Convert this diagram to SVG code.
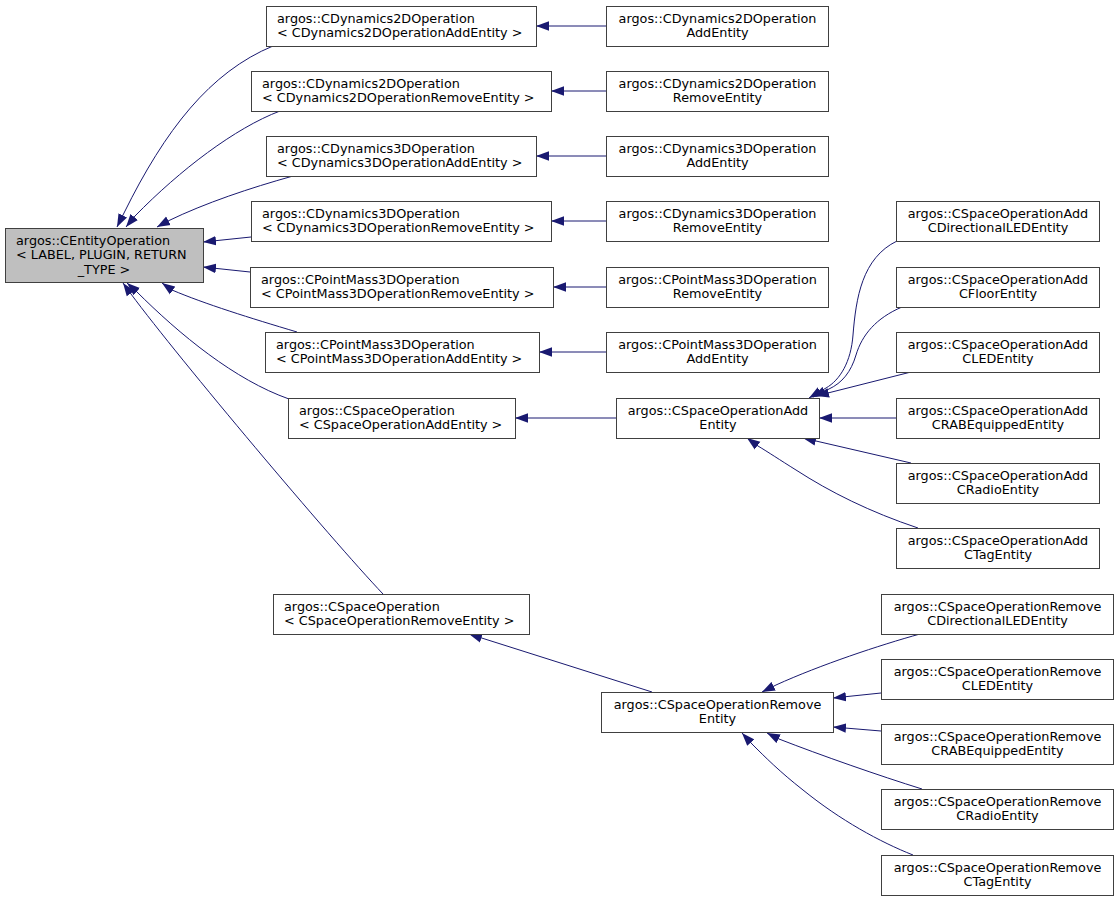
<svg xmlns="http://www.w3.org/2000/svg" width="1119" height="901" viewBox="0 0 1119 901">
<style>
.bg{fill:#ffffff}
.box{fill:#ffffff;stroke:#404040;stroke-width:1}
.root{fill:#bfbfbf;stroke:#404040;stroke-width:1}
text{font-family:"DejaVu Sans","Liberation Sans",sans-serif;font-size:12.8px;fill:#000000}
.c{text-anchor:middle}
.e{fill:none;stroke:#191970;stroke-width:1;marker-end:url(#ah)}
</style>
<defs>
<marker id="ah" markerUnits="userSpaceOnUse" markerWidth="13" markerHeight="11" viewBox="0 0 13 11" refX="13" refY="5.5" orient="auto">
<path d="M0,0.7 L13,5.5 L0,10.3 z" fill="#191970"/>
</marker>
</defs>
<rect class="bg" x="0" y="0" width="1119" height="901"/>

<g id="connectors">
<path class="e" d="M273,46 C210,72 165,130 124,213 L117,227"/>
<path class="e" d="M280,111 C235,128 180,170 135,216 L126,227"/>
<path class="e" d="M293,176 C250,188 205,203 168,221 L157,227"/>
<path class="e" d="M251,237 L203,242"/>
<path class="e" d="M250,272 L203,267"/>
<path class="e" d="M297,332 C250,318 205,304 172,290 L162,283"/>
<path class="e" d="M289,399 C235,380 180,335 136,291 L127,283"/>
<path class="e" d="M383,594 C330,538 180,360 131,294 L123,283"/>

<path class="e" d="M606,26 L536,26"/>
<path class="e" d="M606,91 L551,91"/>
<path class="e" d="M606,156 L536,156"/>
<path class="e" d="M606,221 L551,221"/>
<path class="e" d="M606,287 L553,287"/>
<path class="e" d="M606,352 L539,352"/>
<path class="e" d="M616,418 L515,418"/>
<path class="e" d="M652,692 L469,634"/>

<path class="e" d="M897,241 C862,258 856,298 853,335 C851,362 840,380 826,388 L809,398"/>
<path class="e" d="M902,307 C876,318 862,335 856,355 C851,372 842,383 829,389 L813,397"/>
<path class="e" d="M911,372 L816,396"/>
<path class="e" d="M896,418 L819,418"/>
<path class="e" d="M911,463 L803,438"/>
<path class="e" d="M918,528 C870,512 830,492 796,470 C780,460 768,452 758,446 L747,438"/>

<path class="e" d="M920,634 C880,645 820,665 776,685 L762,692"/>
<path class="e" d="M881,693 L833,698"/>
<path class="e" d="M881,731 L833,727"/>
<path class="e" d="M922,789 C880,776 820,755 779,739 L767,733"/>
<path class="e" d="M913,855 C880,842 840,820 803,790 C780,772 765,757 752,744 L742,733"/>
</g>

<g id="n0"><rect class="root" x="5.5" y="228.5" width="198" height="54"/>
<text x="16" y="244.5">argos::CEntityOperation</text><text x="16" y="259">&lt; LABEL, PLUGIN, RETURN</text><text class="c" x="104" y="273.5">_TYPE &gt;</text></g>

<g id="n1"><rect class="box" x="266.5" y="6.5" width="270" height="40"/>
<text x="277" y="22.5">argos::CDynamics2DOperation</text><text x="277" y="37">&lt; CDynamics2DOperationAddEntity &gt;</text></g>
<g id="n2"><rect class="box" x="251.5" y="71.5" width="300" height="40"/>
<text x="262" y="87.5">argos::CDynamics2DOperation</text><text x="262" y="102">&lt; CDynamics2DOperationRemoveEntity &gt;</text></g>
<g id="n3"><rect class="box" x="266.5" y="136.5" width="270" height="40"/>
<text x="277" y="152.5">argos::CDynamics3DOperation</text><text x="277" y="167">&lt; CDynamics3DOperationAddEntity &gt;</text></g>
<g id="n4"><rect class="box" x="251.5" y="201.5" width="300" height="40"/>
<text x="262" y="217.5">argos::CDynamics3DOperation</text><text x="262" y="232">&lt; CDynamics3DOperationRemoveEntity &gt;</text></g>
<g id="n5"><rect class="box" x="250.5" y="267.5" width="303" height="40"/>
<text x="261" y="283.5">argos::CPointMass3DOperation</text><text x="261" y="298">&lt; CPointMass3DOperationRemoveEntity &gt;</text></g>
<g id="n6"><rect class="box" x="265.5" y="332.5" width="274" height="40"/>
<text x="276" y="348.5">argos::CPointMass3DOperation</text><text x="276" y="363">&lt; CPointMass3DOperationAddEntity &gt;</text></g>
<g id="n7"><rect class="box" x="288.5" y="398.5" width="227" height="40"/>
<text x="299" y="414.5">argos::CSpaceOperation</text><text x="299" y="429">&lt; CSpaceOperationAddEntity &gt;</text></g>
<g id="n8"><rect class="box" x="273.5" y="594.5" width="256" height="40"/>
<text x="284" y="610.5">argos::CSpaceOperation</text><text x="284" y="625">&lt; CSpaceOperationRemoveEntity &gt;</text></g>

<g id="n9"><rect class="box" x="606.5" y="6.5" width="222" height="40"/>
<text class="c" x="717.5" y="22.5">argos::CDynamics2DOperation</text><text class="c" x="717.5" y="37">AddEntity</text></g>
<g id="n10"><rect class="box" x="606.5" y="71.5" width="222" height="40"/>
<text class="c" x="717.5" y="87.5">argos::CDynamics2DOperation</text><text class="c" x="717.5" y="102">RemoveEntity</text></g>
<g id="n11"><rect class="box" x="606.5" y="136.5" width="222" height="40"/>
<text class="c" x="717.5" y="152.5">argos::CDynamics3DOperation</text><text class="c" x="717.5" y="167">AddEntity</text></g>
<g id="n12"><rect class="box" x="606.5" y="201.5" width="222" height="40"/>
<text class="c" x="717.5" y="217.5">argos::CDynamics3DOperation</text><text class="c" x="717.5" y="232">RemoveEntity</text></g>
<g id="n13"><rect class="box" x="606.5" y="267.5" width="222" height="40"/>
<text class="c" x="717.5" y="283.5">argos::CPointMass3DOperation</text><text class="c" x="717.5" y="298">RemoveEntity</text></g>
<g id="n14"><rect class="box" x="606.5" y="332.5" width="222" height="40"/>
<text class="c" x="717.5" y="348.5">argos::CPointMass3DOperation</text><text class="c" x="717.5" y="363">AddEntity</text></g>
<g id="n15"><rect class="box" x="616.5" y="398.5" width="203" height="40"/>
<text class="c" x="718" y="414.5">argos::CSpaceOperationAdd</text><text class="c" x="718" y="429">Entity</text></g>
<g id="n16"><rect class="box" x="601.5" y="692.5" width="232" height="40"/>
<text class="c" x="717.5" y="708.5">argos::CSpaceOperationRemove</text><text class="c" x="717.5" y="723">Entity</text></g>

<g id="n17"><rect class="box" x="896.5" y="201.5" width="203" height="40"/>
<text class="c" x="998" y="217.5">argos::CSpaceOperationAdd</text><text class="c" x="998" y="232">CDirectionalLEDEntity</text></g>
<g id="n18"><rect class="box" x="896.5" y="267.5" width="203" height="40"/>
<text class="c" x="998" y="283.5">argos::CSpaceOperationAdd</text><text class="c" x="998" y="298">CFloorEntity</text></g>
<g id="n19"><rect class="box" x="896.5" y="332.5" width="203" height="40"/>
<text class="c" x="998" y="348.5">argos::CSpaceOperationAdd</text><text class="c" x="998" y="363">CLEDEntity</text></g>
<g id="n20"><rect class="box" x="896.5" y="398.5" width="203" height="40"/>
<text class="c" x="998" y="414.5">argos::CSpaceOperationAdd</text><text class="c" x="998" y="429">CRABEquippedEntity</text></g>
<g id="n21"><rect class="box" x="896.5" y="463.5" width="203" height="40"/>
<text class="c" x="998" y="479.5">argos::CSpaceOperationAdd</text><text class="c" x="998" y="494">CRadioEntity</text></g>
<g id="n22"><rect class="box" x="896.5" y="528.5" width="203" height="40"/>
<text class="c" x="998" y="544.5">argos::CSpaceOperationAdd</text><text class="c" x="998" y="559">CTagEntity</text></g>

<g id="n23"><rect class="box" x="881.5" y="594.5" width="232" height="40"/>
<text class="c" x="997.5" y="610.5">argos::CSpaceOperationRemove</text><text class="c" x="997.5" y="625">CDirectionalLEDEntity</text></g>
<g id="n24"><rect class="box" x="881.5" y="659.5" width="232" height="40"/>
<text class="c" x="997.5" y="675.5">argos::CSpaceOperationRemove</text><text class="c" x="997.5" y="690">CLEDEntity</text></g>
<g id="n25"><rect class="box" x="881.5" y="724.5" width="232" height="40"/>
<text class="c" x="997.5" y="740.5">argos::CSpaceOperationRemove</text><text class="c" x="997.5" y="755">CRABEquippedEntity</text></g>
<g id="n26"><rect class="box" x="881.5" y="789.5" width="232" height="40"/>
<text class="c" x="997.5" y="805.5">argos::CSpaceOperationRemove</text><text class="c" x="997.5" y="820">CRadioEntity</text></g>
<g id="n27"><rect class="box" x="881.5" y="855.5" width="232" height="40"/>
<text class="c" x="997.5" y="871.5">argos::CSpaceOperationRemove</text><text class="c" x="997.5" y="886">CTagEntity</text></g>
</svg>
